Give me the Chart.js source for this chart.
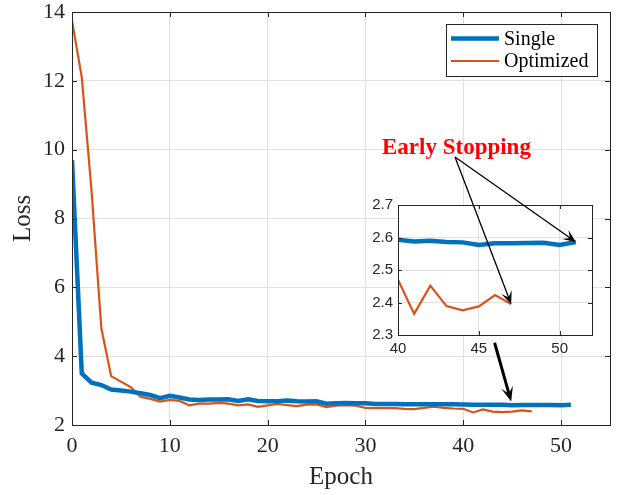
<!DOCTYPE html>
<html>
<head>
<meta charset="utf-8">
<script src="https://cdn.jsdelivr.net/npm/chart.js@4.4.0/dist/chart.umd.min.js"></script>
<style>
  html, body { margin: 0; padding: 0; background: #fff; }
  #wrap { position: relative; width: 622px; height: 495px; }
  #main { position: absolute; left: 0; top: 0; }
  #inset { position: absolute; left: 360px; top: 120px; }
</style>
</head>
<body>
<div id="wrap">
  <canvas id="main" width="622" height="495"></canvas>
  <canvas id="inset" width="250" height="290"></canvas>
</div>
<script>
// ---- data ----
const seriesNames = ['Single', 'Optimized'];
const singleLoss = [
  9.70, 3.50, 3.23, 3.16, 3.03, 3.00, 2.97, 2.92, 2.87, 2.78,
  2.85, 2.80, 2.74, 2.73, 2.74, 2.74, 2.75, 2.70, 2.75, 2.70,
  2.69, 2.69, 2.71, 2.69, 2.68, 2.69, 2.62, 2.63, 2.64, 2.63,
  2.63, 2.61, 2.61, 2.61, 2.60, 2.60, 2.60, 2.60, 2.60, 2.60,
  2.593, 2.588, 2.590, 2.586, 2.585, 2.577, 2.582, 2.582, 2.583, 2.584,
  2.577, 2.586
];
const optimizedLoss = [
  13.75, 12.10, 8.80, 4.81, 3.42, 3.26, 3.10, 2.82, 2.76, 2.68,
  2.73, 2.70, 2.57, 2.62, 2.62, 2.64, 2.62, 2.57, 2.60, 2.53,
  2.57, 2.61, 2.58, 2.55, 2.59, 2.60, 2.52, 2.56, 2.58, 2.56,
  2.50, 2.49, 2.49, 2.49, 2.47, 2.46, 2.50, 2.53, 2.50, 2.48,
  2.470, 2.365, 2.452, 2.389, 2.376, 2.388, 2.423, 2.395
];
const xTicks = [0, 10, 20, 30, 40, 50];
const yTicks = [2, 4, 6, 8, 10, 12, 14];
const insetXTicks = [40, 45, 50];
const insetYTicks = [2.3, 2.4, 2.5, 2.6, 2.7];

// ---- styles ----
const SERIF = '"Liberation Serif", "Times New Roman", serif';
const SANS = '"Liberation Sans", Arial, sans-serif';
const AXIS = '#262626';
const GRID = '#e0e0e0';
const BLUE = '#0072BD';
const ORANGE = '#D95319';

const toXY = arr => arr.map((v, i) => ({ x: i, y: v }));

function makeDatasets() {
  return [
    { label: seriesNames[0], data: toXY(singleLoss), borderColor: BLUE, borderWidth: 4.5 },
    { label: seriesNames[1], data: toXY(optimizedLoss), borderColor: ORANGE, borderWidth: 2.2 }
  ];
}

function arrow(ctx, x0, y0, x1, y1, lw, headLen, headW) {
  const a = Math.atan2(y1 - y0, x1 - x0);
  ctx.save();
  ctx.strokeStyle = '#000';
  ctx.fillStyle = '#000';
  ctx.lineWidth = lw;
  ctx.beginPath();
  ctx.moveTo(x0, y0);
  ctx.lineTo(x1 - Math.cos(a) * headLen * 0.5, y1 - Math.sin(a) * headLen * 0.5);
  ctx.stroke();
  ctx.translate(x1, y1);
  ctx.rotate(a);
  ctx.beginPath();
  ctx.moveTo(0, 0);
  ctx.lineTo(-headLen, -headW);
  ctx.lineTo(-headLen * 0.55, 0);
  ctx.lineTo(-headLen, headW);
  ctx.closePath();
  ctx.fill();
  ctx.restore();
}

// box on all sides + inward tick marks (MATLAB look)
function drawFrame(chart, tickLen) {
  const { ctx, chartArea: a, scales } = chart;
  ctx.save();
  ctx.strokeStyle = AXIS;
  ctx.lineWidth = 1;
  ctx.beginPath();
  scales.x.ticks.forEach(t => {
    const px = Math.round(scales.x.getPixelForValue(t.value)) + 0.5;
    ctx.moveTo(px, a.bottom); ctx.lineTo(px, a.bottom - tickLen);
    ctx.moveTo(px, a.top); ctx.lineTo(px, a.top + tickLen);
  });
  scales.y.ticks.forEach(t => {
    const py = Math.round(scales.y.getPixelForValue(t.value)) + 0.5;
    ctx.moveTo(a.left, py); ctx.lineTo(a.left + tickLen, py);
    ctx.moveTo(a.right, py); ctx.lineTo(a.right - tickLen, py);
  });
  ctx.stroke();
  ctx.strokeRect(Math.round(a.left) + 0.5, Math.round(a.top) + 0.5,
    Math.round(a.right - a.left), Math.round(a.bottom - a.top));
  ctx.restore();
}

const mainPlugin = {
  id: 'mainDecor',
  afterDraw(chart) {
    const { ctx, chartArea: a, scales } = chart;
    drawFrame(chart, 5);

    // legend box, top right
    const w = 151, h = 52;
    const bx = a.right - 13 - w, by = a.top + 12;
    ctx.save();
    ctx.fillStyle = '#fff';
    ctx.fillRect(bx, by, w, h);
    ctx.strokeStyle = AXIS;
    ctx.lineWidth = 1;
    ctx.strokeRect(Math.round(bx) + 0.5, Math.round(by) + 0.5, w, h);
    ctx.font = '20px ' + SERIF;
    ctx.textBaseline = 'middle';
    ctx.fillStyle = '#000';
    chart.data.datasets.forEach((ds, i) => {
      const ly = by + 14.5 + i * 22.5;
      ctx.strokeStyle = ds.borderColor;
      ctx.lineWidth = ds.borderWidth;
      ctx.beginPath();
      ctx.moveTo(bx + 5, ly);
      ctx.lineTo(bx + 53, ly);
      ctx.stroke();
      ctx.fillText(ds.label, bx + 58, ly + 1);
    });
    ctx.restore();

    // thick arrow pointing to the end of the training curves
    arrow(ctx,
      scales.x.getPixelForValue(43.2), scales.y.getPixelForValue(4.39),
      scales.x.getPixelForValue(44.9), scales.y.getPixelForValue(2.68),
      3, 15, 6);
  }
};

const mainChart = new Chart(document.getElementById('main'), {
  type: 'line',
  data: { datasets: makeDatasets() },
  options: {
    responsive: false,
    animation: false,
    events: [],
    layout: { padding: { left: 0, top: 12, right: 12, bottom: 0 } },
    elements: { point: { radius: 0 }, line: { tension: 0 } },
    plugins: { legend: { display: false }, tooltip: { enabled: false } },
    scales: {
      x: {
        type: 'linear', min: 0, max: 55,
        afterBuildTicks: s => { s.ticks = xTicks.map(v => ({ value: v })); },
        afterFit: s => { s.height = 70; s.paddingLeft = 0; s.paddingRight = 0; },
        grid: { color: GRID, drawTicks: false },
        border: { display: true, color: AXIS, width: 1 },
        ticks: { color: AXIS, font: { family: SERIF, size: 22 }, padding: 8, maxRotation: 0, autoSkip: false },
        title: { display: true, text: 'Epoch', color: AXIS, font: { family: SERIF, size: 25 }, padding: { top: 0, bottom: 3 } }
      },
      y: {
        type: 'linear', min: 2, max: 14,
        afterBuildTicks: s => { s.ticks = yTicks.map(v => ({ value: v })); },
        afterFit: s => { s.width = 72; s.paddingTop = 0; s.paddingBottom = 0; },
        grid: { color: GRID, drawTicks: false },
        border: { display: true, color: AXIS, width: 1 },
        ticks: { color: AXIS, font: { family: SERIF, size: 22 }, padding: 7, autoSkip: false },
        title: { display: true, text: 'Loss', color: AXIS, font: { family: SERIF, size: 25 }, padding: { top: 8, bottom: 0 } }
      }
    }
  },
  plugins: [mainPlugin]
});

const insetPlugin = {
  id: 'insetDecor',
  beforeDraw(chart) {
    const { ctx, chartArea: a } = chart;
    ctx.save();
    ctx.fillStyle = '#fff';
    ctx.fillRect(a.left, a.top, a.right - a.left, a.bottom - a.top);
    ctx.restore();
  },
  afterDraw(chart) {
    const { ctx, scales } = chart;
    drawFrame(chart, 4);

    // "Early Stopping" note with arrows to the last epoch of each run
    ctx.save();
    ctx.font = 'bold 23px ' + SERIF;
    ctx.fillStyle = '#ff0000';
    ctx.textBaseline = 'alphabetic';
    ctx.fillText('Early Stopping', 22, 34);
    ctx.restore();

    const ox = 95, oy = 37;
    const lastS = singleLoss.length - 1;
    const lastO = optimizedLoss.length - 1;
    arrow(ctx, ox, oy, scales.x.getPixelForValue(lastS), scales.y.getPixelForValue(singleLoss[lastS]), 1.3, 13, 5.5);
    arrow(ctx, ox, oy, scales.x.getPixelForValue(lastO), scales.y.getPixelForValue(optimizedLoss[lastO]), 1.3, 13, 5.5);
  }
};

const insetChart = new Chart(document.getElementById('inset'), {
  type: 'line',
  data: { datasets: makeDatasets() },
  options: {
    responsive: false,
    animation: false,
    events: [],
    layout: { padding: { left: 0, top: 85, right: 18, bottom: 0 } },
    elements: { point: { radius: 0 }, line: { tension: 0 } },
    plugins: { legend: { display: false }, tooltip: { enabled: false } },
    scales: {
      x: {
        type: 'linear', min: 40, max: 52,
        afterBuildTicks: s => { s.ticks = insetXTicks.map(v => ({ value: v })); },
        afterFit: s => { s.height = 75; s.paddingLeft = 0; s.paddingRight = 0; },
        grid: { color: GRID, drawTicks: false },
        border: { display: true, color: AXIS, width: 1 },
        ticks: { color: AXIS, font: { family: SANS, size: 15 }, padding: 5, maxRotation: 0, autoSkip: false }
      },
      y: {
        type: 'linear', min: 2.3, max: 2.7,
        afterBuildTicks: s => { s.ticks = insetYTicks.map(v => ({ value: v })); },
        afterFit: s => { s.width = 38; s.paddingTop = 0; s.paddingBottom = 0; },
        grid: { color: GRID, drawTicks: false },
        border: { display: true, color: AXIS, width: 1 },
        ticks: { color: AXIS, font: { family: SANS, size: 15 }, padding: 5, autoSkip: false,
                 callback: v => v.toFixed(1) }
      }
    }
  },
  plugins: [insetPlugin]
});
</script>
</body>
</html>
